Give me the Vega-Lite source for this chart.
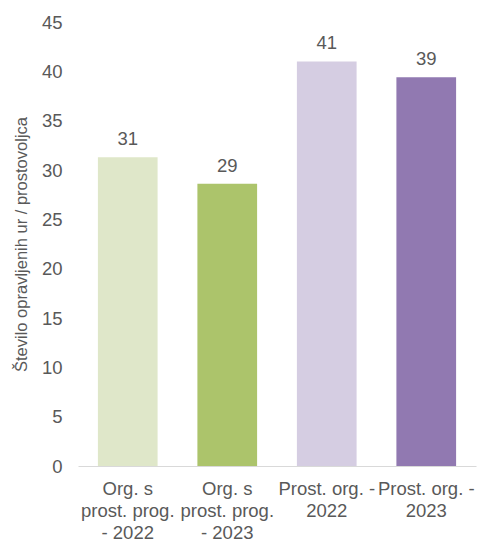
{
  "$schema": "https://vega.github.io/schema/vega-lite/v6.json",
  "width": 398,
  "height": 444,
  "autosize": {"type": "none"},
  "padding": {"left": 78, "top": 22, "right": 2, "bottom": 77},
  "background": "white",
  "config": {
    "view": {"stroke": null},
    "font": "Liberation Sans",
    "axis": {"labelFont": "Liberation Sans", "titleFont": "Liberation Sans"}
  },
  "data": {
    "values": [
      {"cat": "Org. s|prost. prog.|- 2022", "value": 31.3, "color": "#dfe7c9"},
      {"cat": "Org. s|prost. prog.|- 2023", "value": 28.6, "color": "#acc46b"},
      {"cat": "Prost. org. -|2022", "value": 41.0, "color": "#d5cde2"},
      {"cat": "Prost. org. -|2023", "value": 39.4, "color": "#9179b1"}
    ]
  },
  "encoding": {
    "x": {
      "field": "cat",
      "type": "nominal",
      "sort": null,
      "scale": {"paddingInner": 0.4, "paddingOuter": 0.2},
      "axis": {
        "title": null,
        "labelAngle": 0,
        "labelExpr": "split(datum.label, '|')",
        "labelFontSize": 18.5,
        "labelLineHeight": 22,
        "labelColor": "#595959",
        "labelPadding": 13,
        "ticks": false,
        "domainColor": "#d9d9d9",
        "domainWidth": 1,
        "labelLimit": 0
      }
    },
    "y": {
      "field": "value",
      "type": "quantitative",
      "scale": {"domain": [0, 45]},
      "axis": {
        "title": "Število opravljenih ur / prostovoljca",
        "titleFontSize": 16.5,
        "titleFontWeight": "normal",
        "titleColor": "#595959",
        "titlePadding": 12,
        "values": [0, 5, 10, 15, 20, 25, 30, 35, 40, 45],
        "labelFontSize": 18.5,
        "labelColor": "#595959",
        "labelPadding": 16,
        "ticks": false,
        "domain": false,
        "grid": false
      }
    }
  },
  "layer": [
    {
      "mark": {"type": "bar"},
      "encoding": {
        "color": {"field": "color", "type": "nominal", "scale": null}
      }
    },
    {
      "mark": {"type": "text", "baseline": "bottom", "dy": -8, "fontSize": 18.5, "color": "#595959"},
      "encoding": {
        "text": {"field": "value", "type": "quantitative", "format": ".0f"}
      }
    }
  ]
}
